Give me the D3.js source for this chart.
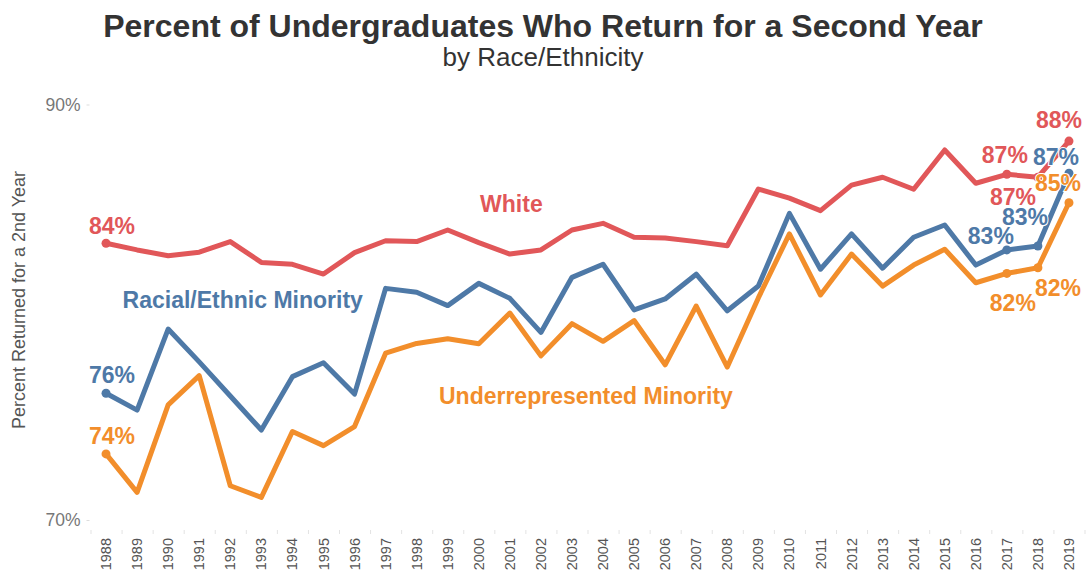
<!DOCTYPE html>
<html>
<head>
<meta charset="utf-8">
<script src="https://cdn.jsdelivr.net/npm/d3@7"></script>
<style>
  body { margin: 0; background: #fff; }
  svg { font-family: "Liberation Sans", Arial, sans-serif; }
  .yAxis .domain, .xAxis .domain, .xBounds .domain { display: none; }
  .yAxis .tick line { stroke: #ddd; }
  .xBounds .tick line { stroke: #e3e3e3; }
  .yAxis .tick text { fill: #777; font-size: 17.5px; }
  .xAxis .tick text { fill: #555; font-size: 14.5px; }
</style>
</head>
<body>
<div id="chart"></div>
<script>
var years = [1988, 1989, 1990, 1991, 1992, 1993, 1994, 1995, 1996, 1997, 1998, 1999, 2000, 2001, 2002, 2003,
             2004, 2005, 2006, 2007, 2008, 2009, 2010, 2011, 2012, 2013, 2014, 2015, 2016, 2017, 2018, 2019];

var white = [83.32, 83.0, 82.72, 82.89, 83.4, 82.4, 82.31, 81.84, 82.87, 83.44, 83.4, 83.96, 83.35, 82.8, 83.0, 83.96,
             84.28, 83.61, 83.57, 83.4, 83.2, 85.93, 85.49, 84.89, 86.12, 86.5, 85.92, 87.81, 86.21, 86.64, 86.5, 88.24];
var minority = [76.1, 75.29, 79.19, 77.61, 75.97, 74.33, 76.9, 77.57, 76.06, 81.15, 80.96, 80.32, 81.39, 80.67, 79.03, 81.68,
                82.31, 80.11, 80.64, 81.83, 80.07, 81.26, 84.76, 82.07, 83.77, 82.12, 83.61, 84.2, 82.27, 83.0, 83.19, 86.69];
var urm = [73.18, 71.33, 75.54, 76.95, 71.65, 71.09, 74.26, 73.58, 74.5, 78.03, 78.5, 78.72, 78.48, 79.96, 77.9, 79.45,
           78.6, 79.6, 77.47, 80.3, 77.36, 80.69, 83.77, 80.83, 82.8, 81.26, 82.27, 83.03, 81.42, 81.87, 82.14, 85.27];

var yTicks = [70, 90];

var labelYears = [1988, 2017, 2018, 2019];
var whiteLabels = ["84%", "87%", "87%", "88%"];
var minorityLabels = ["76%", "83%", "83%", "87%"];
var urmLabels = ["74%", "82%", "82%", "85%"];

var seriesNames = ["White", "Racial/Ethnic Minority", "Underrepresented Minority"];

(function () {
  'use strict'

  var width = 1086, height = 576;
  var plotLeft = 90.5, plotRight = 1084.5, plotTop = 104.5, plotBottom = 520;

  var svg = d3.select("#chart").append("svg")
      .attr("width", width)
      .attr("height", height);

  var x = d3.scaleBand().domain(years).range([plotLeft, plotRight]);
  var xc = function (yr) { return x(yr) + x.bandwidth() / 2; };
  // continuous year position, for text anchored between years
  var xl = d3.scaleLinear().domain([years[0], years[years.length - 1]]).range([xc(years[0]), xc(years[years.length - 1])]);
  var y = d3.scaleLinear().domain([70, 90]).range([plotBottom, plotTop]);

  // title
  svg.append("text")
      .attr("x", 543).attr("y", 37)
      .attr("text-anchor", "middle")
      .style("font-size", "32px").style("font-weight", "bold").style("fill", "#333")
      .text("Percent of Undergraduates Who Return for a Second Year");
  svg.append("text")
      .attr("x", 543).attr("y", 66)
      .attr("text-anchor", "middle")
      .style("font-size", "26px").style("fill", "#333")
      .text("by Race/Ethnicity");

  // y axis
  svg.append("g")
      .attr("class", "yAxis")
      .attr("transform", "translate(" + (plotLeft - 1) + ",0)")
      .call(d3.axisLeft(y).tickValues(yTicks).tickSize(3).tickPadding(6).tickFormat(function (d) { return d + "%"; }));

  svg.append("text")
      .attr("transform", "translate(25," + 300 + ") rotate(-90)")
      .attr("text-anchor", "middle")
      .style("font-size", "18px").style("fill", "#555")
      .text("Percent Returned for a 2nd Year");

  // x axis: labels at band centers, faint marks at band edges
  var xAx = svg.append("g")
      .attr("class", "xAxis")
      .attr("transform", "translate(0,531)")
      .call(d3.axisBottom(x).tickSize(0).tickPadding(0));
  xAx.selectAll(".tick text")
      .attr("transform", "rotate(-90)")
      .attr("x", -7).attr("y", 0).attr("dy", "0.35em")
      .style("text-anchor", "end");

  var bounds = years.map(function (yr) { return x(yr); });
  bounds.push(plotRight);
  svg.append("g")
      .attr("class", "xBounds")
      .attr("transform", "translate(0,530)")
      .call(d3.axisBottom(d3.scaleLinear().domain([plotLeft, plotRight]).range([plotLeft, plotRight]))
        .tickValues(bounds).tickSize(4).tickFormat(""));

  var series = [
    { name: seriesNames[0], values: white, labels: whiteLabels, color: "#e15759",
      nameYear: 2001.05, nameVal: 85.2,
      off: [[6, -17], [-2, -19], [-25, 20], [-10, -21]] },
    { name: seriesNames[1], values: minority, labels: minorityLabels, color: "#4e79a7",
      nameYear: 1992.4, nameVal: 80.6,
      off: [[6, -18], [-16, -14], [-13, -29], [-13, -16]] },
    { name: seriesNames[2], values: urm, labels: urmLabels, color: "#f28e2b",
      nameYear: 2003.45, nameVal: 75.98,
      off: [[6, -18], [6, 30], [20, 20], [-11, -20]] }
  ];

  var line = d3.line()
      .x(function (d, i) { return xc(years[i]); })
      .y(function (d) { return y(d); });

  series.forEach(function (s) {
    var g = svg.append("g");
    g.append("path")
        .attr("d", line(s.values))
        .attr("fill", "none")
        .attr("stroke", s.color)
        .attr("stroke-width", 5)
        .attr("stroke-linejoin", "round")
        .attr("stroke-linecap", "round");

    g.selectAll("circle")
        .data(labelYears)
        .enter().append("circle")
        .attr("cx", function (yr) { return xc(yr); })
        .attr("cy", function (yr) { return y(s.values[years.indexOf(yr)]); })
        .attr("r", 4.5)
        .attr("fill", s.color);
  });

  series.forEach(function (s) {
    svg.append("g").selectAll("text")
        .data(labelYears)
        .enter().append("text")
        .attr("x", function (yr, i) { return xc(yr) + s.off[i][0]; })
        .attr("y", function (yr, i) { return y(s.values[years.indexOf(yr)]) + s.off[i][1]; })
        .attr("text-anchor", "middle")
        .attr("dominant-baseline", "central")
        .style("font-size", "23px").style("font-weight", "bold")
        .style("fill", s.color)
        .style("paint-order", "stroke").style("stroke", "#fff").style("stroke-width", 2)
        .text(function (yr, i) { return s.labels[i]; });

    svg.append("text")
        .attr("x", xl(s.nameYear))
        .attr("y", y(s.nameVal))
        .attr("text-anchor", "middle")
        .attr("dominant-baseline", "central")
        .style("font-size", "23px").style("font-weight", "bold")
        .style("fill", s.color)
        .text(s.name);
  });
})()
</script>
</body>
</html>
